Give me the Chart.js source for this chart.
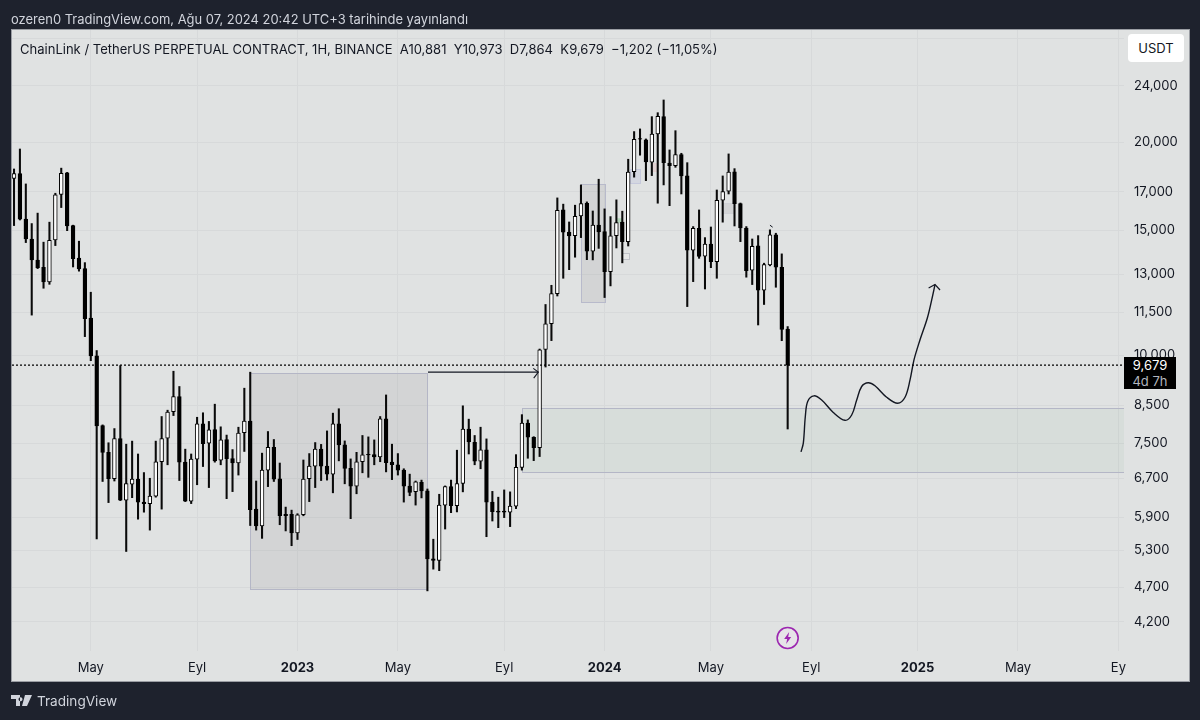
<!DOCTYPE html>
<html>
<head>
<meta charset="utf-8">
<title>ChainLink / TetherUS</title>
<script src="https://cdn.jsdelivr.net/npm/chart.js@4/dist/chart.umd.min.js"></script>
<style>
  html, body { margin: 0; padding: 0; background: #1e222d; }
  body { width: 1200px; height: 720px; overflow: hidden; position: relative; font-family: Inter, "Noto Sans", sans-serif; }
  canvas { position: absolute; left: 0; top: 0; }
  .txt { position: absolute; white-space: pre; }
  #published { left: 11px; top: 11px; font-size: 12.95px; line-height: 16px; color: #d1d4dc; }
  #legend { left: 20px; top: 41px; font-size: 13.04px; line-height: 16px; color: #131722; }
  #usdt { left: 1128px; top: 34px; width: 56px; height: 28px; line-height: 28px; text-align: center; background: #fff; border-radius: 4px; font-size: 13px; color: #131722; }
  #lastBox { left: 1124px; top: 357px; width: 52px; height: 32px; background: #000; color: #fff; text-align: center; font-size: 13px; line-height: 16px; padding-top: 0; }
  #lastBox span { color: #b2b5be; display: block; }
  #brand { left: 37px; top: 692px; font-size: 13.6px; line-height: 18px; color: #d1d4dc; }
  #brandLogo { position: absolute; left: 11px; top: 695px; }
</style>
</head>
<body>
<canvas id="chart" width="1200" height="720"></canvas>
<div class="txt" id="published">ozeren0 TradingView.com, Ağu 07, 2024 20:42 UTC+3 tarihinde yayınlandı</div>
<div class="txt" id="legend">ChainLink / TetherUS PERPETUAL CONTRACT, 1H, BINANCE  A10,881  Y10,973  D7,864  K9,679  −1,202 (−11,05%)</div>
<div class="txt" id="usdt">USDT</div>
<div class="txt" id="lastBox">9,679<span>4d 7h</span></div>
<svg id="brandLogo" width="22" height="12" viewBox="0 0 22 12"><path fill="#d1d4dc" d="M0 0h9v11H5V4H0zM14 0h7l-5 11h-5zM9.5 2.2a2 2 0 1 0 .01 0z"/></svg>
<div class="txt" id="brand">TradingView</div>
<script>
// Weekly candles, one per week starting 2022-01-31
const opens = [
  17.76, 18.05, 15.57, 14.59, 13.62, 13.31, 12.69, 14.55, 16.86, 18.09, 15.24, 13.71,
  13.25, 11.28, 9.98, 7.95, 7.29, 6.69, 7.62, 6.24, 6.57, 6.68, 6.20, 6.17,
  6.32, 7.07, 7.63, 8.32, 8.74, 7.06, 6.22, 7.13, 8.00, 7.51, 7.85, 7.105,
  7.60, 7.14, 7.04, 7.77, 8.07, 6.06, 5.74, 6.88, 7.41, 6.69, 5.96, 5.96,
  5.61, 5.95, 6.69, 6.97, 7.365, 6.97, 6.79, 8.00, 7.47, 6.92, 6.53, 7.07,
  7.245, 7.235, 7.18, 8.13, 7.06, 7.00, 6.88, 6.53, 6.415, 6.61, 6.43, 5.155,
  5.13, 6.14, 6.52, 6.13, 6.59, 7.86, 7.53, 7.08, 7.35, 6.20, 6.02, 6.02,
  6.00, 6.12, 6.94, 8.02, 7.655, 7.40, 10.19, 11.08, 12.215, 16.035, 14.915, 14.75,
  15.72, 16.39, 14.02, 15.27, 14.94, 13.12, 14.75, 15.41, 14.465, 18.16, 20.22, 20.135,
  18.73, 20.53, 21.72, 18.68, 18.52, 19.20, 17.91, 14.07, 15.11, 13.80, 14.345, 13.555,
  16.55, 17.04, 18.15, 16.37, 15.12, 13.18, 14.265, 12.35, 13.41, 14.79, 13.31, 10.881
];
const highs = [
  18.32, 19.55, 17.45, 15.34, 15.87, 14.44, 15.41, 16.93, 18.37, 18.12, 15.26, 14.485,
  13.51, 12.27, 10.15, 7.97, 7.52, 7.875, 9.665, 7.485, 7.56, 7.25, 6.825, 6.70,
  7.56, 8.19, 8.36, 9.49, 9.03, 7.365, 7.25, 8.17, 8.29, 8.06, 8.525, 7.92,
  7.71, 7.355, 7.91, 8.98, 9.46, 6.64, 7.27, 7.80, 7.60, 7.04, 6.10, 6.04,
  5.97, 7.11, 7.26, 7.525, 7.48, 7.815, 8.28, 8.40, 7.565, 7.135, 7.29, 7.70,
  7.665, 7.59, 8.19, 8.785, 7.485, 7.26, 6.91, 6.79, 6.64, 6.66, 6.47, 5.495,
  6.36, 6.535, 6.66, 7.34, 8.48, 8.12, 7.70, 7.91, 7.615, 6.42, 6.30, 6.45,
  6.41, 7.235, 8.24, 8.10, 7.67, 10.20, 11.79, 12.55, 16.675, 16.34, 15.42, 16.285,
  17.395, 16.46, 15.98, 17.72, 16.09, 15.69, 16.57, 15.97, 18.91, 20.69, 20.87, 20.20,
  21.72, 22.00, 22.93, 19.49, 20.75, 19.28, 18.70, 15.19, 16.035, 14.655, 15.17, 17.11,
  17.91, 19.24, 18.34, 16.40, 15.19, 14.59, 14.75, 13.485, 15.03, 14.865, 13.90, 10.973
];
const lows = [
  15.24, 15.52, 14.42, 11.39, 13.25, 12.43, 12.59, 14.28, 16.16, 14.99, 13.32, 13.14,
  10.62, 9.82, 5.50, 6.63, 6.19, 6.64, 6.23, 5.28, 6.29, 5.865, 6.00, 5.66,
  6.30, 6.06, 7.00, 8.215, 6.65, 6.21, 6.17, 6.56, 6.96, 6.50, 7.06, 7.00,
  6.27, 6.415, 6.77, 7.31, 5.745, 5.66, 5.51, 6.52, 6.63, 5.76, 5.645, 5.38,
  5.49, 5.93, 6.21, 6.50, 6.65, 6.66, 6.39, 7.09, 6.58, 5.875, 6.37, 6.82,
  6.72, 7.00, 7.07, 6.84, 6.67, 6.77, 6.20, 6.33, 6.14, 6.285, 4.645, 4.985,
  4.96, 5.68, 5.99, 6.005, 6.41, 7.25, 7.00, 6.91, 5.54, 5.83, 5.705, 5.895,
  5.725, 6.07, 6.88, 7.15, 7.095, 7.19, 9.62, 10.483, 12.12, 12.84, 13.205, 13.75,
  14.655, 13.64, 13.63, 14.15, 12.06, 12.525, 14.17, 13.50, 14.26, 17.84, 19.16, 17.64,
  17.93, 16.39, 17.395, 16.26, 18.42, 16.89, 11.71, 12.70, 13.70, 12.40, 13.29, 12.84,
  15.41, 16.89, 15.22, 14.465, 12.885, 12.58, 11.03, 11.79, 13.37, 12.47, 10.48, 7.864
];
const closes = [
  18.05, 15.56, 14.59, 13.63, 13.29, 12.69, 14.53, 16.84, 18.07, 15.22, 13.69, 13.24,
  11.26, 9.975, 7.945, 7.29, 6.69, 7.62, 6.24, 6.585, 6.68, 6.20, 6.17, 6.32,
  7.07, 7.62, 8.31, 8.74, 7.06, 6.22, 7.13, 8.00, 7.50, 7.84, 7.09, 7.59,
  7.14, 7.04, 7.76, 8.07, 6.05, 5.74, 6.88, 7.41, 6.68, 5.93, 5.93, 5.61,
  5.95, 6.68, 6.97, 7.365, 6.97, 6.79, 8.00, 7.47, 6.92, 6.53, 7.07, 7.23,
  7.23, 7.18, 8.13, 7.05, 7.00, 6.88, 6.53, 6.40, 6.62, 6.43, 5.155, 5.13,
  6.14, 6.52, 6.13, 6.585, 7.86, 7.54, 7.08, 7.35, 6.20, 6.01, 6.00, 6.00,
  6.12, 6.94, 8.02, 7.655, 7.40, 10.17, 11.07, 12.215, 16.02, 14.915, 14.74, 15.71,
  16.37, 14.02, 15.27, 14.93, 13.12, 14.74, 15.39, 14.465, 18.13, 20.18, 20.18, 18.75,
  20.53, 21.75, 18.70, 18.52, 19.20, 17.91, 14.07, 15.11, 13.78, 14.345, 13.555, 16.55,
  17.02, 18.13, 16.37, 15.12, 13.16, 14.25, 12.35, 13.42, 14.79, 13.31, 10.87, 9.679
];
const lastPrice = 9.679;

// Axis ticks
const priceTicks = [28, 24, 20, 17, 15, 13, 11.5, 10, 8.5, 7.5, 6.7, 5.9, 5.3, 4.7, 4.2];
const priceLabels = ['', '24,000', '20,000', '17,000', '15,000', '13,000', '11,500', '10,000', '8,500', '7,500', '6,700', '5,900', '5,300', '4,700', '4,200'];
const timeTicks = [13, 31, 48, 65, 83, 100, 118, 135, 153, 170, 187];
const timeLabels = ['May', 'Eyl', '2023', 'May', 'Eyl', '2024', 'May', 'Eyl', '2025', 'May', 'Ey'];
const weekMin = -0.34, weekMax = 187.95;
const priceMin = 3.82, priceMax = 28.79;

// Drawn boxes on the chart: week from/to, price high/low. The green one runs off the right edge
const zoneStart = [40, 86, 96, 104.3, 102.95, 108, 120, 102.1];
const zoneEnd = [70, 190, 100, 106, 104.1, 108.9, 121.7, 103];
const zoneHigh = [9.44, 8.42, 17.45, 18.32, 13.94, 18.68, 16.4, 15.62];
const zoneLow = [4.675, 6.84, 11.89, 17.51, 13.67, 18.2, 15.88, 15.42];

// Hand drawn path to the right of the last candle
const pathWeeks = [133.26, 133.65, 133.99, 134.39, 135.45, 136.76, 138.72, 140.7, 141.84, 142.69, 143.53, 144.65, 145.78, 147.76, 149.62, 150.87, 151.72, 152.39, 153.41, 154.64, 155.39, 155.95];
const pathPrices = [7.30, 7.51, 8.19, 8.60, 8.76, 8.64, 8.30, 8.09, 8.23, 8.64, 9.03, 9.14, 9.05, 8.72, 8.55, 8.72, 9.225, 9.845, 10.51, 11.275, 11.97, 12.58];
const headWeeks = [154.87, 155.95, 156.8];
const headPrices = [12.44, 12.58, 12.36];

// Horizontal arrow from the big box to the breakout
const arrowWeeks = [70.1, 88.78];
const arrowPrices = [9.46, 9.46];
const arrowHeadWeeks = [87.93, 88.78, 88.0];
const arrowHeadPrices = [9.58, 9.46, 9.28];

// Little tick drawn above the candle of week 128
const flickWeeks = [128.0, 128.46];
const flickPrices = [15.26, 15.16];

const zoneFill = ['rgba(120,123,134,0.13)', 'rgba(100,160,120,0.07)', 'rgba(120,123,134,0.13)', 'rgba(130,140,210,0.12)', 'rgba(255,255,255,0.2)', 'rgba(230,150,150,0.2)', 'rgba(120,123,134,0.13)', 'rgba(100,190,120,0.35)'];
const zoneStroke = ['#b4b6c6', '#b4b6c6', '#b8bacb', '#c6c9dc', '#c0c2c8', '#e2d0d0', '#d0d1d6', '#c0dcc4'];

const weeks = opens.map((_, i) => i);
const zip = (xs, ys) => xs.map((x, i) => ({ x, y: ys[i] }));

function overlayLine(data, width, dash) {
    return {
        type: 'line',
        data,
        borderColor: '#131722',
        borderWidth: width,
        borderDash: dash || [],
        pointRadius: 0,
        fill: false,
        order: 1
    };
}

// Panel behind the chart and the drawn boxes
const backdrop = {
    id: 'backdrop',
    beforeDraw(chart) {
        const ctx = chart.ctx;
        ctx.save();
        ctx.fillStyle = '#e0e2e2';
        ctx.fillRect(11, 30, 1178, 652);
        ctx.strokeStyle = '#9a9da3';
        ctx.lineWidth = 1;
        ctx.strokeRect(11.5, 29.5, 1178, 652);
        ctx.restore();
    },
    beforeDatasetsDraw(chart) {
        const { ctx, chartArea, scales: { x, y } } = chart;
        ctx.save();
        ctx.beginPath();
        ctx.rect(chartArea.left, chartArea.top, chartArea.right - chartArea.left, chartArea.bottom - chartArea.top);
        ctx.clip();
        zoneStart.forEach((start, i) => {
            const left = Math.round(x.getPixelForValue(start)) + 0.5;
            const right = Math.round(x.getPixelForValue(zoneEnd[i])) + 0.5;
            const top = Math.round(y.getPixelForValue(zoneHigh[i])) + 0.5;
            const bottom = Math.round(y.getPixelForValue(zoneLow[i])) + 0.5;
            ctx.fillStyle = zoneFill[i];
            ctx.fillRect(left, top, right - left, bottom - top);
            ctx.strokeStyle = zoneStroke[i];
            ctx.lineWidth = 1;
            ctx.strokeRect(left, top, right - left, bottom - top);
        });
        ctx.restore();
    },
    afterDraw(chart) {
        // lightning badge under the last candle
        const { ctx, scales: { x } } = chart;
        const cx = x.getPixelForValue(131), cy = 638;
        ctx.save();
        ctx.beginPath();
        ctx.arc(cx, cy, 10.5, 0, Math.PI * 2);
        ctx.fillStyle = '#e6e4e8';
        ctx.fill();
        ctx.strokeStyle = '#9c27b0';
        ctx.lineWidth = 1.6;
        ctx.stroke();
        ctx.fillStyle = '#9c27b0';
        ctx.beginPath();
        ctx.moveTo(cx + 1.5, cy - 6);
        ctx.lineTo(cx - 3.5, cy + 1);
        ctx.lineTo(cx - 0.5, cy + 1);
        ctx.lineTo(cx - 1.5, cy + 6);
        ctx.lineTo(cx + 3.5, cy - 1);
        ctx.lineTo(cx + 0.5, cy - 1);
        ctx.closePath();
        ctx.fill();
        ctx.restore();
    }
};

const chart = new Chart(document.getElementById('chart'), {
    type: 'bar',
    data: {
        datasets: [
            {
                label: 'wick',
                data: weeks.map(i => ({ x: i, y: [lows[i], highs[i]] })),
                backgroundColor: '#0a0a0a',
                barThickness: 1.4,
                grouped: false,
                order: 3
            },
            {
                label: 'body',
                data: weeks.map(i => ({ x: i, y: [Math.min(opens[i], closes[i]), Math.max(opens[i], closes[i])] })),
                backgroundColor: weeks.map(i => closes[i] >= opens[i] ? '#ffffff' : '#000000'),
                borderColor: '#000000',
                borderWidth: 1,
                borderSkipped: false,
                barThickness: 3.8,
                grouped: false,
                order: 2
            },
            Object.assign(overlayLine([{ x: weekMin, y: lastPrice }, { x: weekMax, y: lastPrice }], 1.2, [2, 2]), { borderColor: '#000000' }),
            overlayLine(zip(arrowWeeks, arrowPrices), 1.2),
            overlayLine(zip(arrowHeadWeeks, arrowHeadPrices), 1.1),
            overlayLine(zip(flickWeeks, flickPrices), 1),
            Object.assign(overlayLine(zip(pathWeeks, pathPrices), 1.4), { tension: 0.35 }),
            overlayLine(zip(headWeeks, headPrices), 1.2)
        ]
    },
    options: {
        responsive: false,
        animation: false,
        layout: { padding: { left: 12, top: 30 } },
        plugins: { legend: { display: false }, tooltip: { enabled: false } },
        scales: {
            x: {
                type: 'linear',
                offset: false,
                min: weekMin,
                max: weekMax,
                afterFit: s => { s.height = 69; },
                afterBuildTicks: s => { s.ticks = timeTicks.map(value => ({ value })); },
                grid: { color: '#d7d9da', drawTicks: false, offset: false },
                border: { display: false },
                ticks: {
                    autoSkip: false,
                    maxRotation: 0,
                    padding: 9,
                    color: '#131722',
                    font: ctx => ({ family: 'Inter', size: 13, weight: /^20/.test(timeLabels[ctx.index]) ? 'bold' : 'normal' }),
                    callback: (v, i) => timeLabels[i]
                }
            },
            y: {
                type: 'logarithmic',
                position: 'right',
                min: priceMin,
                max: priceMax,
                afterFit: s => { s.width = 76; },
                afterBuildTicks: s => { s.ticks = priceTicks.map(value => ({ value })); },
                grid: { color: '#d7d9da', drawTicks: false },
                border: { display: false },
                ticks: {
                    autoSkip: false,
                    padding: 10,
                    color: '#131722',
                    font: { family: 'Inter', size: 13 },
                    callback: (v, i) => priceLabels[i]
                }
            }
        }
    },
    plugins: [backdrop]
});
</script>
</body>
</html>
